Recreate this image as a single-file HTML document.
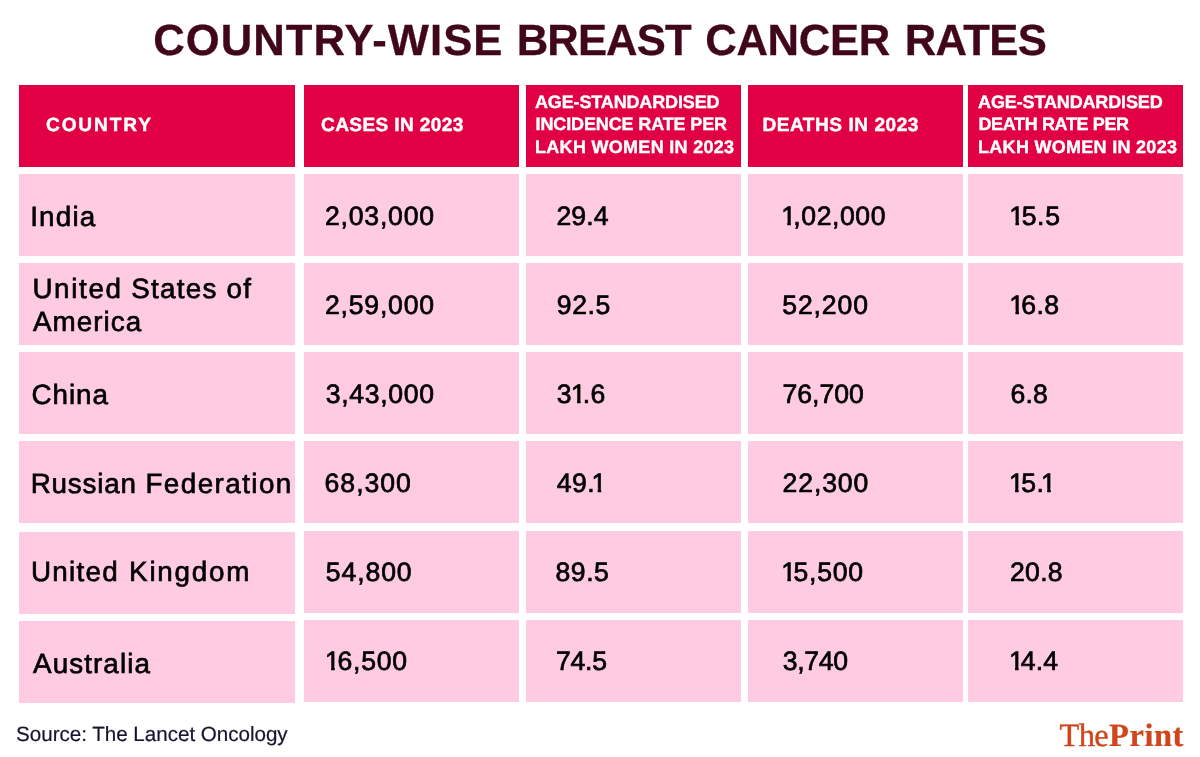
<!DOCTYPE html>
<html lang="en">
<head>
<meta charset="utf-8">
<title>Country-wise breast cancer rates</title>
<style>
html,body{margin:0;padding:0;background:#fff;}
body{width:1200px;height:757px;position:relative;overflow:hidden;font-family:"Liberation Sans",sans-serif;}
.b{position:absolute;}
.hc{background:#e00043;}
.pc{background:#ffcbe2;}
.t{position:absolute;white-space:nowrap;line-height:1;margin:0;padding:0;font-kerning:normal;text-rendering:geometricPrecision;}
#txt{position:absolute;left:0;top:0;width:1200px;height:757px;will-change:transform;}
.title{font-weight:700;font-size:43.6px;color:#40061a;-webkit-text-stroke:0.3px #40061a;}
.hd{font-weight:700;font-size:18px;color:#fff;-webkit-text-stroke:0.4px #fff;}
.hd1{font-weight:700;font-size:19.1px;color:#fff;-webkit-text-stroke:0.45px #fff;}
.nm{font-size:27.8px;color:#000;-webkit-text-stroke:0.66px #000;}
.num{font-size:26.6px;color:#000;-webkit-text-stroke:0.7px #000;}
.one{display:inline-block;margin-left:-0.03em;margin-right:-0.12em;clip-path:polygon(-0.2em -0.3em,1em -0.3em,1em 0.70em,0.362em 0.70em,0.362em 1.3em,0.23em 1.3em,0.23em 0.70em,-0.2em 0.70em);}
.kk{margin-left:-0.13em;}
.src{font-size:20.6px;color:#15152f;-webkit-text-stroke:0.2px #15152f;}
.lg1{font-family:"Liberation Serif",serif;font-size:32.5px;color:#d0451b;-webkit-text-stroke:0.4px #d0451b;}
.lg2{font-family:"Liberation Serif",serif;font-weight:700;font-size:32.5px;color:#d0451b;-webkit-text-stroke:0.2px #d0451b;}
</style>
</head>
<body>
<div class="b hc" style="left:19px;top:85px;width:276px;height:82px"></div>
<div class="b pc" style="left:19px;top:174px;width:276px;height:82px"></div>
<div class="b pc" style="left:19px;top:263px;width:276px;height:82px"></div>
<div class="b pc" style="left:19px;top:352px;width:276px;height:82px"></div>
<div class="b pc" style="left:19px;top:441px;width:276px;height:82px"></div>
<div class="b pc" style="left:19px;top:532px;width:276px;height:82px"></div>
<div class="b pc" style="left:19px;top:621px;width:276px;height:82px"></div>
<div class="b hc" style="left:304px;top:85px;width:215px;height:82px"></div>
<div class="b pc" style="left:304px;top:174px;width:215px;height:82px"></div>
<div class="b pc" style="left:304px;top:263px;width:215px;height:82px"></div>
<div class="b pc" style="left:304px;top:352px;width:215px;height:82px"></div>
<div class="b pc" style="left:304px;top:441px;width:215px;height:82px"></div>
<div class="b pc" style="left:304px;top:531px;width:215px;height:82px"></div>
<div class="b pc" style="left:304px;top:620px;width:215px;height:82px"></div>
<div class="b hc" style="left:526px;top:85px;width:215px;height:82px"></div>
<div class="b pc" style="left:526px;top:174px;width:215px;height:82px"></div>
<div class="b pc" style="left:526px;top:263px;width:215px;height:82px"></div>
<div class="b pc" style="left:526px;top:352px;width:215px;height:82px"></div>
<div class="b pc" style="left:526px;top:441px;width:215px;height:82px"></div>
<div class="b pc" style="left:526px;top:531px;width:215px;height:82px"></div>
<div class="b pc" style="left:526px;top:620px;width:215px;height:82px"></div>
<div class="b hc" style="left:748px;top:85px;width:215px;height:82px"></div>
<div class="b pc" style="left:748px;top:174px;width:215px;height:82px"></div>
<div class="b pc" style="left:748px;top:263px;width:215px;height:82px"></div>
<div class="b pc" style="left:748px;top:352px;width:215px;height:82px"></div>
<div class="b pc" style="left:748px;top:441px;width:215px;height:82px"></div>
<div class="b pc" style="left:748px;top:531px;width:215px;height:82px"></div>
<div class="b pc" style="left:748px;top:620px;width:215px;height:82px"></div>
<div class="b hc" style="left:968px;top:85px;width:215px;height:82px"></div>
<div class="b pc" style="left:968px;top:174px;width:215px;height:82px"></div>
<div class="b pc" style="left:968px;top:263px;width:215px;height:82px"></div>
<div class="b pc" style="left:968px;top:352px;width:215px;height:82px"></div>
<div class="b pc" style="left:968px;top:441px;width:215px;height:82px"></div>
<div class="b pc" style="left:968px;top:531px;width:215px;height:82px"></div>
<div class="b pc" style="left:968px;top:620px;width:215px;height:82px"></div>
<div id="txt">
<div id="t1" class="t title" style="left:153.25px;top:20.38px;letter-spacing:1.062px;">COUNTRY-WISE</div>
<div id="t2" class="t title" style="left:516.65px;top:20.38px;letter-spacing:-0.864px;">BREAST</div>
<div id="t3" class="t title" style="left:705.25px;top:20.38px;letter-spacing:-0.308px;">CANCER</div>
<div id="t4" class="t title" style="left:904.65px;top:20.38px;letter-spacing:-0.589px;">RATES</div>
<div id="h1" class="t hd1" style="left:46.02px;top:116.13px;letter-spacing:1.858px;">COUNTRY</div>
<div id="h2" class="t hd1" style="left:321.02px;top:116.13px;letter-spacing:0.361px;">CASES IN 2023</div>
<div id="h3a" class="t hd" style="left:534.98px;top:93.06px;letter-spacing:-0.142px;">AGE-STANDARDISED</div>
<div id="h3b" class="t hd" style="left:535.62px;top:115.06px;letter-spacing:-0.133px;">INCIDENCE RATE PER</div>
<div id="h3c" class="t hd" style="left:535.04px;top:138.06px;letter-spacing:0.294px;">LAKH WOMEN IN 2023</div>
<div id="h4" class="t hd1" style="left:762.39px;top:116.13px;letter-spacing:0.525px;">DEATHS IN 2023</div>
<div id="h5a" class="t hd" style="left:978.11px;top:93.06px;letter-spacing:-0.140px;">AGE-STANDARDISED</div>
<div id="h5b" class="t hd" style="left:978.44px;top:115.06px;letter-spacing:-0.358px;">DEATH RATE PER</div>
<div id="h5c" class="t hd" style="left:978.04px;top:138.06px;letter-spacing:0.288px;">LAKH WOMEN IN 2023</div>
<div id="n1" class="t nm" style="left:30.15px;top:202.76px;letter-spacing:1.207px;">India</div>
<div id="n2a" class="t nm" style="left:32.40px;top:274.76px;letter-spacing:1.658px;">United</div>
<div id="n2a2" class="t nm" style="left:131.29px;top:274.76px;letter-spacing:1.256px;">States of</div>
<div id="n2b" class="t nm" style="left:32.98px;top:307.76px;letter-spacing:1.058px;">America</div>
<div id="n3" class="t nm" style="left:31.39px;top:380.76px;letter-spacing:1.000px;">China</div>
<div id="n4" class="t nm" style="left:30.69px;top:469.76px;letter-spacing:0.788px;">Russian</div>
<div id="n4b" class="t nm" style="left:145.43px;top:469.76px;letter-spacing:1.441px;">Federation</div>
<div id="n5" class="t nm" style="left:30.89px;top:557.76px;letter-spacing:1.319px;">United</div>
<div id="n5b" class="t nm" style="left:129.12px;top:557.76px;letter-spacing:1.748px;">Kingdom</div>
<div id="n6" class="t nm" style="left:33.09px;top:649.76px;letter-spacing:1.082px;">Australia</div>
<div id="src" class="t src" style="left:16.06px;top:724.86px;letter-spacing:-0.018px;">Source: The Lancet Oncology</div>
<div id="lg1" class="t lg1" style="left:1059.62px;top:720.08px;letter-spacing:-0.692px;">The</div>
<div id="lg2" class="t lg2" style="left:1109.10px;top:720.08px;letter-spacing:0.521px;">Print</div>
<div id="c2r1" class="t num" style="left:325.04px;top:202.78px;letter-spacing:0.781px;">2,03,000</div>
<div id="c2r2" class="t num" style="left:325.04px;top:291.78px;letter-spacing:0.781px;">2,59,000</div>
<div id="c2r3" class="t num" style="left:325.71px;top:380.78px;letter-spacing:0.694px;">3,43,000</div>
<div id="c2r4" class="t num" style="left:324.56px;top:469.78px;letter-spacing:1.005px;">68,300</div>
<div id="c2r5" class="t num" style="left:325.82px;top:558.78px;letter-spacing:0.898px;">54,800</div>
<div id="c2r6" class="t num" style="left:325.86px;top:647.78px;letter-spacing:0.776px;"><span class="one">1</span>6,500</div>
<div id="c3r1" class="t num" style="left:556.41px;top:202.78px;letter-spacing:0.089px;">29.4</div>
<div id="c3r2" class="t num" style="left:556.87px;top:291.78px;letter-spacing:0.524px;">92.5</div>
<div id="c3r3" class="t num" style="left:556.71px;top:380.78px;letter-spacing:0.259px;">3<span class="one">1</span>.6</div>
<div id="c3r4" class="t num" style="left:556.63px;top:469.78px;letter-spacing:0.461px;">49.<span class="one kk">1</span></div>
<div id="c3r5" class="t num" style="left:555.54px;top:558.78px;letter-spacing:0.514px;">89.5</div>
<div id="c3r6" class="t num" style="left:555.91px;top:647.78px;letter-spacing:-0.234px;">74.5</div>
<div id="c4r1" class="t num" style="left:781.94px;top:202.78px;letter-spacing:0.570px;"><span class="one">1</span>,02,000</div>
<div id="c4r2" class="t num" style="left:782.35px;top:291.78px;letter-spacing:0.848px;">52,200</div>
<div id="c4r3" class="t num" style="left:782.46px;top:380.78px;letter-spacing:0.010px;">76,700</div>
<div id="c4r4" class="t num" style="left:782.55px;top:469.78px;letter-spacing:0.880px;">22,300</div>
<div id="c4r5" class="t num" style="left:782.07px;top:558.78px;letter-spacing:0.725px;"><span class="one">1</span>5,500</div>
<div id="c4r6" class="t num" style="left:782.82px;top:647.78px;letter-spacing:-0.329px;">3,740</div>
<div id="c5r1" class="t num" style="left:1010.14px;top:202.78px;letter-spacing:0.686px;"><span class="one">1</span>5.5</div>
<div id="c5r2" class="t num" style="left:1010.14px;top:291.78px;letter-spacing:0.377px;"><span class="one">1</span>6.8</div>
<div id="c5r3" class="t num" style="left:1010.41px;top:380.78px;letter-spacing:0.264px;">6.8</div>
<div id="c5r4" class="t num" style="left:1009.81px;top:469.78px;letter-spacing:0.590px;"><span class="one">1</span>5.<span class="one kk">1</span></div>
<div id="c5r5" class="t num" style="left:1010.04px;top:558.78px;letter-spacing:0.287px;">20.8</div>
<div id="c5r6" class="t num" style="left:1009.81px;top:647.78px;letter-spacing:0.171px;"><span class="one">1</span>4.4</div>
</div>
</body>
</html>
